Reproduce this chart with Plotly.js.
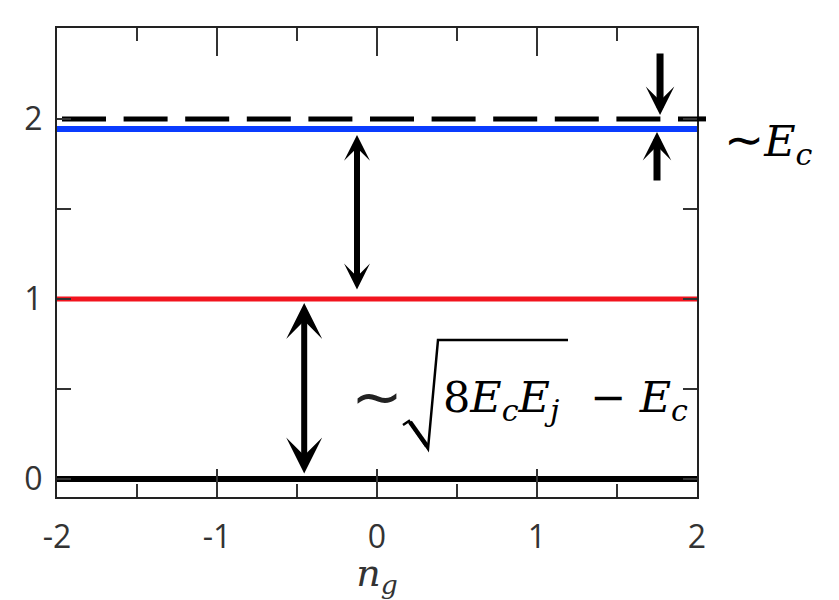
<!DOCTYPE html>
<html>
<head>
<meta charset="utf-8">
<script src="https://cdn.plot.ly/plotly-3.0.1.min.js"></script>
<style>html,body{margin:0;padding:0;background:#fff;}#chart{width:839px;height:600px;}</style>
</head>
<body>
<div id="chart"></div>
<script>
// ---- data ----
const ngValues = [-2, 2];                 // gate charge n_g span
const groundLevel = [0, 0];               // E0
const firstLevel = [1, 1];                // E1
const secondLevel = [1.944, 1.944];       // E2 (blue)
const harmonicLevel = [2, 2];             // harmonic reference (dashed)
const xTickVals = [-2, -1, 0, 1, 2];
const xTickText = ['-2', '-1', '0', '1', '2'];
const yTickVals = [0, 1, 2];
const yTickText = ['0', '1', '2'];

// ---- geometry helpers (pixel -> paper) for decorations ----
const M = {l: 57, r: 142, t: 28, b: 103};
const W = 839, H = 600;
const PW = W - M.l - M.r, PH = H - M.t - M.b;
const px = v => (v - M.l) / PW;
const py = v => (H - M.b - v) / PH;

const traces = [
  {x: ngValues, y: firstLevel, mode: 'lines', line: {color: '#f2141e', width: 5}, hoverinfo: 'skip'},
  {x: ngValues, y: secondLevel, mode: 'lines', line: {color: '#0a3cff', width: 6}, hoverinfo: 'skip'},
  {x: ngValues, y: harmonicLevel, mode: 'lines', line: {color: '#000', width: 5, dash: '0px,5px,44px,12.6px'}, hoverinfo: 'skip'},
  {x: ngValues, y: groundLevel, mode: 'lines', line: {color: '#000', width: 6}, hoverinfo: 'skip'}
];

const mathFont = {family: 'DejaVu Serif', size: 43, color: '#000'};
const tildeFont = {family: 'DejaVu Sans', size: 62, color: '#222'};

const arrowCommon = {xref: 'x', yref: 'y', axref: 'x', ayref: 'y', text: '', showarrow: true,
  arrowcolor: '#000', standoff: 0, startstandoff: 0};

const layout = {
  width: W, height: H,
  margin: M,
  paper_bgcolor: '#fff', plot_bgcolor: '#fff',
  showlegend: false,
  xaxis: {
    range: [-2, 2], tickmode: 'array', tickvals: xTickVals, ticktext: xTickText,
    ticks: 'inside', ticklen: 28, tickwidth: 2, tickcolor: '#333',
    minor: {tickmode: 'linear', tick0: -2, dtick: 0.5, ticks: 'inside', ticklen: 13, tickwidth: 2, tickcolor: '#333'},
    mirror: 'ticks', showline: true, linecolor: '#222', linewidth: 2,
    showgrid: false, zeroline: false, fixedrange: true,
    tickfont: {family: 'Open Sans', size: 32, color: '#333'},
    ticklabelstandoff: 11,
    title: {text: '<i>n</i><sub><i>g</i></sub>', font: {family: 'DejaVu Serif', size: 38, color: '#333'}, standoff: 0},
    automargin: false
  },
  yaxis: {
    range: [-0.1, 2.505], tickmode: 'array', tickvals: yTickVals, ticktext: yTickText,
    ticks: 'inside', ticklen: 14, tickwidth: 2, tickcolor: '#333',
    minor: {tickmode: 'array', tickvals: [0.5, 1.5], ticks: 'inside', ticklen: 14, tickwidth: 2, tickcolor: '#333'},
    mirror: 'ticks', showline: true, linecolor: '#222', linewidth: 2,
    showgrid: false, zeroline: false, fixedrange: true,
    tickfont: {family: 'Open Sans', size: 32, color: '#333'},
    ticklabelstandoff: 6,
    automargin: false
  },
  shapes: [
    // dashed level continues slightly past the frame
    {type: 'line', xref: 'paper', yref: 'y', x0: 1, x1: px(706), y0: 2, y1: 2, line: {color: '#000', width: 5}},
    // radical sign
    {type: 'path', xref: 'paper', yref: 'paper',
     path: `M ${px(403)} ${py(425)} L ${px(409)} ${py(421)} L ${px(428)} ${py(449)} L ${px(438)} ${py(340)} L ${px(568)} ${py(340)}`,
     line: {color: '#000', width: 2.5}},
    {type: 'line', xref: 'paper', yref: 'paper', x0: px(410), y0: py(422), x1: px(427), y1: py(446), line: {color: '#000', width: 4.5}}
  ],
  annotations: [
    Object.assign({}, arrowCommon, {x: -0.455, y: 0.978, ax: -0.455, ay: 0.022, arrowside: 'end+start',
      arrowhead: 3, startarrowhead: 3, arrowwidth: 6, arrowsize: 1.0, startarrowsize: 1.0}),
    Object.assign({}, arrowCommon, {x: -0.125, y: 1.911, ax: -0.125, ay: 1.044, arrowside: 'end+start',
      arrowhead: 3, startarrowhead: 3, arrowwidth: 6, arrowsize: 0.72, startarrowsize: 0.72}),
    Object.assign({}, arrowCommon, {x: 1.769, y: 2.022, ax: 1.769, ay: 2.372,
      arrowhead: 3, arrowwidth: 7, arrowsize: 0.68}),
    Object.assign({}, arrowCommon, {x: 1.75, y: 1.928, ax: 1.75, ay: 1.65,
      arrowhead: 3, arrowwidth: 7, arrowsize: 0.68}),
    {xref: 'paper', yref: 'paper', x: px(722), y: py(141), xanchor: 'left', yanchor: 'middle', showarrow: false,
     text: '<span style="font-family:\'DejaVu Sans\';font-size:48px">∼</span><i>E</i><sub><i>c</i></sub>', font: mathFont},
    {xref: 'paper', yref: 'paper', x: px(377), y: py(396), xanchor: 'center', yanchor: 'middle', showarrow: false,
     text: '∼', font: tildeFont},
    {xref: 'paper', yref: 'paper', x: px(441), y: py(400), xanchor: 'left', yanchor: 'middle', showarrow: false,
     text: '8<i>E</i><sub><i>c</i></sub><i>E</i><sub><i>j</i></sub>', font: mathFont},
    {xref: 'paper', yref: 'paper', x: px(588), y: py(400), xanchor: 'left', yanchor: 'middle', showarrow: false,
     text: '− <i>E</i><sub><i>c</i></sub>', font: mathFont}
  ]
};

Plotly.newPlot('chart', traces, layout, {displayModeBar: false, staticPlot: true});
</script>
</body>
</html>
